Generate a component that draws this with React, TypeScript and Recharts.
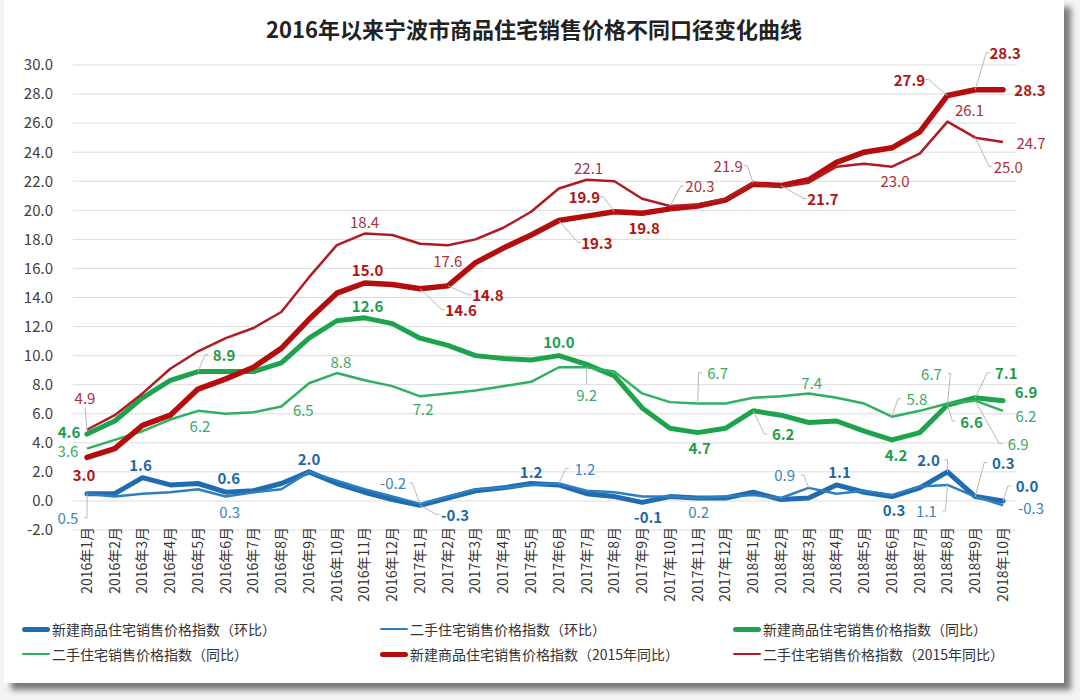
import React from "react";
import { LineChart, Line, XAxis, YAxis, CartesianGrid, LabelList } from "recharts";

const months = [
  "2016年1月", "2016年2月", "2016年3月", "2016年4月", "2016年5月", "2016年6月",
  "2016年7月", "2016年8月", "2016年9月", "2016年10月", "2016年11月", "2016年12月",
  "2017年1月", "2017年2月", "2017年3月", "2017年4月", "2017年5月", "2017年6月",
  "2017年7月", "2017年8月", "2017年9月", "2017年10月", "2017年11月", "2017年12月",
  "2018年1月", "2018年2月", "2018年3月", "2018年4月", "2018年5月", "2018年6月",
  "2018年7月", "2018年8月", "2018年9月", "2018年10月",
];

// 新建商品住宅销售价格指数（环比）
const newMom = [
  0.5, 0.5, 1.6, 1.1, 1.2, 0.6, 0.7, 1.2, 2.0, 1.2, 0.6, 0.1,
  -0.3, 0.2, 0.7, 0.9, 1.2, 1.1, 0.5, 0.3, -0.1, 0.3, 0.2, 0.2,
  0.6, 0.1, 0.2, 1.1, 0.6, 0.3, 0.9, 2.0, 0.3, 0.0,
];
// 二手住宅销售价格指数（环比）
const oldMom = [
  0.5, 0.3, 0.5, 0.6, 0.8, 0.3, 0.6, 0.8, 2.0, 1.4, 0.8, 0.3,
  -0.2, 0.3, 0.8, 0.9, 1.1, 1.2, 0.7, 0.6, 0.3, 0.3, 0.2, 0.3,
  0.4, 0.2, 0.9, 0.5, 0.7, 0.4, 1.0, 1.1, 0.3, -0.3,
];
// 新建商品住宅销售价格指数（同比）
const newYoy = [
  4.6, 5.5, 7.1, 8.3, 8.9, 8.9, 8.9, 9.5, 11.2, 12.4, 12.6, 12.2,
  11.2, 10.7, 10.0, 9.8, 9.7, 10.0, 9.4, 8.6, 6.4, 5.0, 4.7, 5.0,
  6.2, 5.9, 5.4, 5.5, 4.8, 4.2, 4.7, 6.6, 7.1, 6.9,
];
// 二手住宅销售价格指数（同比）
const oldYoy = [
  3.6, 4.2, 4.8, 5.6, 6.2, 6.0, 6.1, 6.5, 8.1, 8.8, 8.3, 7.9,
  7.2, 7.4, 7.6, 7.9, 8.2, 9.2, 9.2, 8.9, 7.4, 6.8, 6.7, 6.7,
  7.1, 7.2, 7.4, 7.1, 6.7, 5.8, 6.2, 6.7, 6.9, 6.2,
];
// 新建商品住宅销售价格指数（2015年同比）
const new2015 = [
  3.0, 3.6, 5.2, 5.9, 7.7, 8.4, 9.2, 10.5, 12.5, 14.3, 15.0, 14.9,
  14.6, 14.8, 16.4, 17.4, 18.3, 19.3, 19.6, 19.9, 19.8, 20.1, 20.3, 20.7,
  21.8, 21.7, 22.1, 23.3, 24.0, 24.3, 25.4, 27.9, 28.3, 28.3,
];
// 二手住宅销售价格指数（2015年同比）
const old2015 = [
  4.9, 5.9, 7.4, 9.1, 10.3, 11.2, 11.9, 13.0, 15.4, 17.6, 18.4, 18.3,
  17.7, 17.6, 18.0, 18.8, 19.9, 21.5, 22.1, 22.0, 20.8, 20.3, 20.4, 20.8,
  21.9, 21.6, 21.9, 23.0, 23.2, 23.0, 23.9, 26.1, 25.0, 24.7,
];

const yTicks = [-2, 0, 2, 4, 6, 8, 10, 12, 14, 16, 18, 20, 22, 24, 26, 28, 30];

const data = months.map((m, i) => ({
  month: m,
  newMom: newMom[i],
  oldMom: oldMom[i],
  newYoy: newYoy[i],
  oldYoy: oldYoy[i],
  new2015: new2015[i],
  old2015: old2015[i],
}));

type LabelPos = { dx: number; dy: number; lead?: boolean };

// which points carry a value label, and where it sits relative to the point
const newMomLabels: Record<number, LabelPos> = {
  2: { dx: -2, dy: -13 }, 5: { dx: 3, dy: -15 }, 8: { dx: 0, dy: -13 },
  12: { dx: 35, dy: 9, lead: true }, 16: { dx: 0, dy: -12 }, 20: { dx: 6, dy: 14 },
  27: { dx: 3, dy: -13 }, 29: { dx: 2, dy: 13 }, 31: { dx: -19, dy: -12, lead: true },
  32: { dx: 28, dy: -34, lead: true }, 33: { dx: 24, dy: -15, lead: true },
};
const oldMomLabels: Record<number, LabelPos> = {
  0: { dx: -19, dy: 24, lead: true }, 5: { dx: 4, dy: 15 }, 12: { dx: -27, dy: -21, lead: true },
  17: { dx: 26, dy: -15, lead: true }, 22: { dx: 1, dy: 13 }, 26: { dx: -24, dy: -13, lead: true },
  31: { dx: -21, dy: 26, lead: true }, 33: { dx: 28, dy: 2 },
};
const newYoyLabels: Record<number, LabelPos> = {
  0: { dx: -18, dy: -3 }, 4: { dx: 26, dy: -17, lead: true }, 10: { dx: 3, dy: -12 },
  17: { dx: 0, dy: -14 }, 22: { dx: 2, dy: 15 }, 24: { dx: 30, dy: 23, lead: true },
  29: { dx: 4, dy: 15 }, 31: { dx: 24, dy: 16, lead: true }, 32: { dx: 31, dy: -25, lead: true },
  33: { dx: 23, dy: -9 },
};
const oldYoyLabels: Record<number, LabelPos> = {
  0: { dx: -19, dy: 2 }, 4: { dx: 2, dy: 15 }, 7: { dx: 22, dy: 3 }, 9: { dx: 4, dy: -12 },
  12: { dx: 3, dy: 12 }, 18: { dx: 0, dy: 27, lead: true }, 22: { dx: 20, dy: -31, lead: true },
  26: { dx: 3, dy: -11 }, 29: { dx: 25, dy: -18, lead: true }, 31: { dx: -16, dy: -30, lead: true },
  32: { dx: 43, dy: 43, lead: true }, 33: { dx: 23, dy: 5 },
};
const new2015Labels: Record<number, LabelPos> = {
  0: { dx: -3, dy: 17 }, 10: { dx: 3, dy: -13 }, 12: { dx: 41, dy: 21, lead: true },
  13: { dx: 40, dy: 9, lead: true }, 17: { dx: 38, dy: 22, lead: true },
  19: { dx: -30, dy: -15, lead: true }, 20: { dx: 2, dy: 14 }, 25: { dx: 42, dy: 13, lead: true },
  31: { dx: -38, dy: -16, lead: true }, 32: { dx: 30, dy: -37, lead: true }, 33: { dx: 27, dy: 0 },
};
const old2015Labels: Record<number, LabelPos> = {
  0: { dx: -2, dy: -32, lead: true }, 10: { dx: 0, dy: -12 }, 13: { dx: 0, dy: 15 },
  18: { dx: 2, dy: -12 }, 21: { dx: 30, dy: -20, lead: true }, 24: { dx: -25, dy: -17, lead: true },
  29: { dx: 3, dy: 14 }, 31: { dx: 22, dy: -12 }, 32: { dx: 33, dy: 29, lead: true },
  33: { dx: 28, dy: 0 },
};

const FONT = '"Noto Sans CJK SC", "Noto Sans", sans-serif';

function makeLabel(pos: Record<number, LabelPos>, color: string, bold: boolean) {
  return (props: any) => {
    const { x, y, index, value } = props;
    const p = pos[index];
    if (!p) return null;
    const tx = x + p.dx;
    const ty = y + p.dy;
    let lead = null;
    if (p.lead) {
      const horiz = Math.abs(p.dx) > 12;
      const ex = horiz ? tx - Math.sign(p.dx) * 19 : tx;
      const ey = horiz ? ty : ty - Math.sign(p.dy) * 10;
      lead = (
        <polyline
          points={`${x},${y} ${ex},${ey} ${horiz ? ex + Math.sign(p.dx) * 3 : ex},${ey}`}
          fill="none"
          stroke="#b8b8b8"
          strokeWidth={1}
        />
      );
    }
    return (
      <g key={`lb-${index}`}>
        {lead}
        <text
          x={tx}
          y={ty}
          textAnchor="middle"
          dominantBaseline="central"
          fill={color}
          fontSize={15}
          fontWeight={bold ? 700 : 400}
          fontFamily={FONT}
        >
          {Number(value).toFixed(1)}
        </text>
      </g>
    );
  };
}

const MonthTick = (props: any) => {
  const { x, y, payload } = props;
  const ty = y - 5;
  return (
    <text
      x={x}
      y={ty}
      transform={`rotate(-90, ${x}, ${ty})`}
      textAnchor="end"
      dy="0.35em"
      fontSize={14}
      fill="#333"
      fontFamily={FONT}
    >
      {payload.value}
    </text>
  );
};

const legendItems = [
  { name: "新建商品住宅销售价格指数（环比）", color: "#1f6cb0", w: 5, left: 22, top: 620 },
  { name: "二手住宅销售价格指数（环比）", color: "#2f7fbf", w: 2, left: 380, top: 620 },
  { name: "新建商品住宅销售价格指数（同比）", color: "#1da34c", w: 5, left: 733, top: 620 },
  { name: "二手住宅销售价格指数（同比）", color: "#30b060", w: 2, left: 22, top: 645 },
  { name: "新建商品住宅销售价格指数（2015年同比）", color: "#b50d0d", w: 5, left: 380, top: 645 },
  { name: "二手住宅销售价格指数（2015年同比）", color: "#b01c24", w: 2, left: 733, top: 645 },
];

export default function App() {
  return (
    <div
      style={{
        position: "absolute",
        left: 0,
        top: 0,
        width: 1080,
        height: 700,
        background: "#f4f4f4",
        fontFamily: FONT,
        overflow: "hidden",
      }}
    >
      <div
        style={{
          position: "absolute",
          left: 4,
          top: 0,
          width: 1060,
          height: 683,
          background: "#ffffff",
          boxShadow: "7px 7px 6px #7a7a7a",
        }}
      />
      <div
        style={{
          position: "absolute",
          left: 0,
          top: 12,
          width: 1068,
          textAlign: "center",
          fontSize: 22,
          fontWeight: 700,
          color: "#222",
        }}
      >
        2016年以来宁波市商品住宅销售价格不同口径变化曲线
      </div>
      <div style={{ position: "absolute", left: 0, top: 0 }}>
        <LineChart
          width={1080}
          height={620}
          data={data}
          margin={{ top: 65, right: 63, left: 13, bottom: 10 }}
        >
          <CartesianGrid vertical={false} stroke="#dcdcdc" />
          <XAxis
            dataKey="month"
            interval={0}
            height={80}
            padding={{ left: 14, right: 14 }}
            axisLine={false}
            tickLine={false}
            tickSize={0}
            tick={<MonthTick />}
          />
          <YAxis
            domain={[-2, 30]}
            ticks={yTicks}
            interval={0}
            width={60}
            axisLine={false}
            tickLine={false}
            tickSize={0}
            tickMargin={20}
            tick={{ fontSize: 15, fill: "#404040", fontFamily: FONT }}
            tickFormatter={(v: number) => v.toFixed(1)}
          />
          <Line dataKey="newMom" stroke="#1f6cb0" strokeWidth={5} dot={false} activeDot={false}
            strokeLinejoin="round" strokeLinecap="round" isAnimationActive={false}>
            <LabelList dataKey="newMom" content={makeLabel(newMomLabels, "#1d67a8", true)} />
          </Line>
          <Line dataKey="oldMom" stroke="#2f7fbf" strokeWidth={2.5} dot={false} activeDot={false}
            strokeLinejoin="round" isAnimationActive={false}>
            <LabelList dataKey="oldMom" content={makeLabel(oldMomLabels, "#3a85bd", false)} />
          </Line>
          <Line dataKey="newYoy" stroke="#1da34c" strokeWidth={5} dot={false} activeDot={false}
            strokeLinejoin="round" strokeLinecap="round" isAnimationActive={false}>
            <LabelList dataKey="newYoy" content={makeLabel(newYoyLabels, "#1f9c4b", true)} />
          </Line>
          <Line dataKey="oldYoy" stroke="#30b060" strokeWidth={2.5} dot={false} activeDot={false}
            strokeLinejoin="round" isAnimationActive={false}>
            <LabelList dataKey="oldYoy" content={makeLabel(oldYoyLabels, "#3da866", false)} />
          </Line>
          <Line dataKey="new2015" stroke="#b50d0d" strokeWidth={5.5} dot={false} activeDot={false}
            strokeLinejoin="round" strokeLinecap="round" isAnimationActive={false}>
            <LabelList dataKey="new2015" content={makeLabel(new2015Labels, "#b01414", true)} />
          </Line>
          <Line dataKey="old2015" stroke="#b01c24" strokeWidth={2.5} dot={false} activeDot={false}
            strokeLinejoin="round" isAnimationActive={false}>
            <LabelList dataKey="old2015" content={makeLabel(old2015Labels, "#a8303c", false)} />
          </Line>
        </LineChart>
      </div>
      {legendItems.map((it) => (
        <div
          key={it.name}
          style={{
            position: "absolute",
            left: it.left,
            top: it.top,
            height: 18,
            display: "flex",
            alignItems: "center",
            fontSize: 14,
            color: "#333",
            whiteSpace: "nowrap",
          }}
        >
          <span
            style={{
              display: "inline-block",
              width: 28,
              height: it.w,
              borderRadius: it.w / 2,
              background: it.color,
              marginRight: 2,
            }}
          />
          {it.name}
        </div>
      ))}
    </div>
  );
}
